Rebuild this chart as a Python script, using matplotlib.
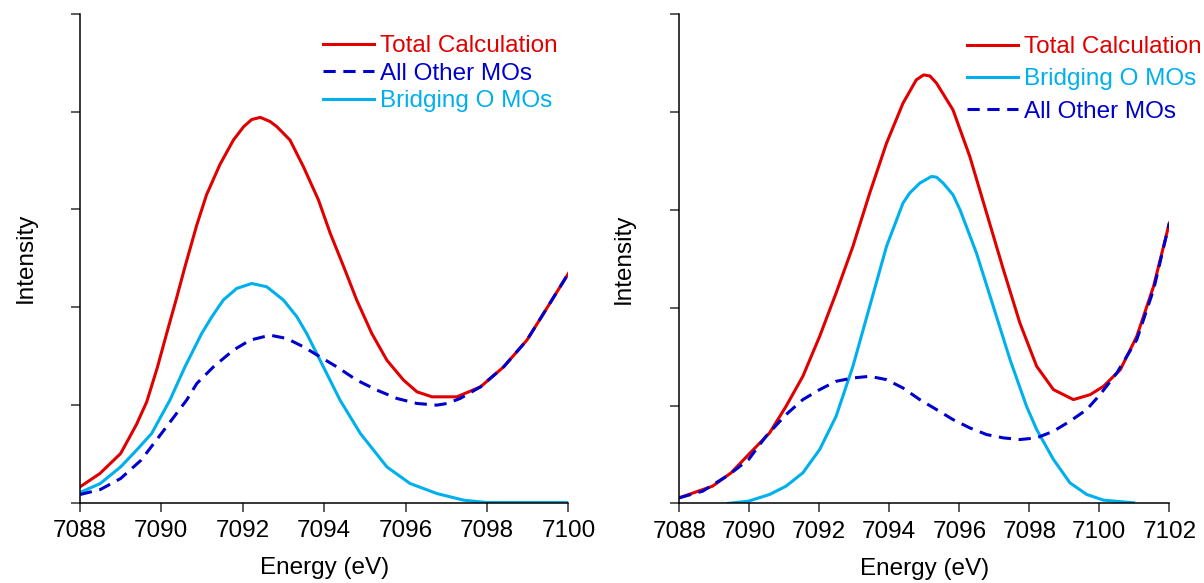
import matplotlib
matplotlib.use("Agg")
import matplotlib.pyplot as plt
import numpy as np

plt.rcParams["font.family"] = ["Liberation Sans", "DejaVu Sans"]

RED = "#E00000"
CYAN = "#00B0EC"
BLUE = "#0000CC"

# ── Left panel (7088-7100 eV) ───────────────────────────────────────
left_total_e = [7088.00, 7088.49, 7089.00, 7089.39, 7089.64, 7089.90, 7090.13, 7090.36,
                7090.58, 7090.87, 7091.11, 7091.44, 7091.77, 7092.02, 7092.22, 7092.43,
                7092.67, 7092.84, 7093.16, 7093.49, 7093.86, 7094.15, 7094.48, 7094.80,
                7095.17, 7095.54, 7095.95, 7096.28, 7096.65, 7097.26, 7097.84, 7098.41,
                7098.98, 7099.39, 7100.00]
left_total = [0.160, 0.297, 0.502, 0.800, 1.030, 1.380, 1.730, 2.072,
              2.413, 2.840, 3.150, 3.460, 3.710, 3.846, 3.920, 3.942,
              3.900, 3.846, 3.710, 3.437, 3.096, 2.754, 2.413, 2.072,
              1.730, 1.457, 1.253, 1.133, 1.082, 1.082, 1.184, 1.389,
              1.662, 1.935, 2.345]

left_bridging_e = [7088.00, 7088.50, 7089.00, 7089.39, 7089.76, 7090.21, 7090.58, 7090.99,
                   7091.24, 7091.52, 7091.85, 7092.22, 7092.59, 7093.00, 7093.33, 7093.57,
                   7093.98, 7094.39, 7094.89, 7095.54, 7096.11, 7096.77, 7097.43, 7098.00, 7100.00]
left_bridging = [0.102, 0.195, 0.365, 0.536, 0.706, 1.048, 1.389, 1.730,
                 1.901, 2.072, 2.191, 2.242, 2.208, 2.072, 1.901, 1.730,
                 1.389, 1.048, 0.706, 0.365, 0.195, 0.092, 0.024, 0.0, 0.0]

left_other_e = [7088.00, 7088.50, 7089.00, 7089.50, 7090.00, 7090.62, 7090.87, 7091.28,
                7091.77, 7092.18, 7092.67, 7093.08, 7093.49, 7093.90, 7094.31, 7094.80,
                7095.30, 7095.79, 7096.28, 7096.77, 7097.02, 7097.34, 7097.84, 7098.41,
                7098.98, 7099.39, 7100.00]
left_other = [0.082, 0.133, 0.246, 0.433, 0.706, 1.048, 1.218, 1.389,
              1.560, 1.662, 1.713, 1.679, 1.594, 1.491, 1.389, 1.253,
              1.150, 1.065, 1.014, 0.997, 1.014, 1.065, 1.184, 1.389,
              1.662, 1.935, 2.345]

# ── Right panel (7088-7102 eV) ──────────────────────────────────────
right_total_e = [7088.00, 7088.95, 7089.48, 7089.98, 7090.58, 7091.05, 7091.53, 7092.01,
                 7092.48, 7092.96, 7093.44, 7093.92, 7094.39, 7094.58, 7094.77, 7094.98,
                 7095.16, 7095.35, 7095.82, 7096.30, 7096.78, 7097.26, 7097.73, 7098.21,
                 7098.69, 7099.26, 7099.74, 7100.12, 7100.60, 7101.07, 7101.55, 7102.00]
right_total = [0.058, 0.177, 0.313, 0.500, 0.721, 0.993, 1.299, 1.707,
               2.150, 2.626, 3.170, 3.680, 4.088, 4.207, 4.327, 4.378,
               4.367, 4.293, 4.020, 3.544, 2.966, 2.388, 1.844, 1.401,
               1.163, 1.061, 1.112, 1.197, 1.367, 1.707, 2.218, 2.864]

right_bridging_e = [7089.38, 7089.98, 7090.58, 7091.05, 7091.53, 7092.01, 7092.48, 7092.96,
                    7093.44, 7093.92, 7094.39, 7094.58, 7094.87, 7095.20, 7095.35, 7095.54,
                    7095.82, 7096.02, 7096.49, 7096.97, 7097.45, 7097.92, 7098.21, 7098.69,
                    7099.16, 7099.64, 7100.12, 7100.98]
right_bridging = [0.0, 0.024, 0.092, 0.177, 0.313, 0.551, 0.891, 1.401,
                  2.014, 2.626, 3.068, 3.170, 3.272, 3.340, 3.333, 3.272,
                  3.153, 3.000, 2.558, 2.014, 1.469, 0.993, 0.755, 0.449,
                  0.211, 0.092, 0.034, 0.007]

right_other_e = [7088.00, 7088.67, 7089.43, 7089.98, 7090.48, 7091.05, 7091.53, 7092.01,
                 7092.48, 7092.96, 7093.44, 7093.92, 7094.39, 7094.87, 7095.35, 7095.82,
                 7096.30, 7096.78, 7097.26, 7097.73, 7098.21, 7098.69, 7099.16, 7099.64,
                 7100.02, 7100.50, 7101.07, 7101.55, 7102.00]
right_other = [0.058, 0.126, 0.296, 0.449, 0.687, 0.908, 1.061, 1.163,
               1.248, 1.282, 1.299, 1.265, 1.180, 1.061, 0.959, 0.857,
               0.772, 0.704, 0.670, 0.653, 0.670, 0.738, 0.840, 0.959,
               1.112, 1.333, 1.673, 2.184, 2.864]

FS = 17.5
fig = plt.figure(figsize=(12.04, 5.83), dpi=100)
axL = fig.add_axes([0.0664, 0.138, 0.4057, 0.838])
axR = fig.add_axes([0.5642, 0.1364, 0.407, 0.8396])

dash = (4, 2.5)
lw = 2.2

hL_t, = axL.plot(left_total_e, left_total, color=RED, lw=lw, label="Total Calculation")
hL_b, = axL.plot(left_bridging_e, left_bridging, color=CYAN, lw=lw, label="Bridging O MOs")
hL_o, = axL.plot(left_other_e, left_other, color=BLUE, lw=lw, dashes=dash, label="All Other MOs")

hR_t, = axR.plot(right_total_e, right_total, color=RED, lw=lw, label="Total Calculation")
hR_b, = axR.plot(right_bridging_e, right_bridging, color=CYAN, lw=lw, label="Bridging O MOs")
hR_o, = axR.plot(right_other_e, right_other, color=BLUE, lw=lw, dashes=dash, label="All Other MOs")

for ax, xmax in [(axL, 7100), (axR, 7102)]:
    ax.set_xlim(7088, xmax)
    ax.set_ylim(0, 5)
    ax.set_xticks(np.arange(7088, xmax + 1, 2))
    ax.set_yticks(np.arange(0, 6, 1))
    ax.set_yticklabels([])
    for s in ["top", "right"]:
        ax.spines[s].set_visible(False)
    for s in ["left", "bottom"]:
        ax.spines[s].set_linewidth(1.1)
    ax.tick_params(direction="out", length=6.5, width=1.1, labelsize=FS, pad=6, color="#303030")
    ax.set_xlabel("Energy (eV)", fontsize=FS)
    ax.set_ylabel("Intensity", fontsize=FS)
    ax.xaxis.set_label_coords(0.5, -0.111)

axL.yaxis.set_label_coords(-0.088, 0.5)
axR.yaxis.set_label_coords(-0.090, 0.5)

axL.legend(handles=[hL_t, hL_o, hL_b], loc="upper left", bbox_to_anchor=(0.497, 0.957),
           frameon=False, fontsize=FS, handlelength=2.1, handletextpad=0.25,
           labelspacing=0.23, borderpad=0, borderaxespad=0, labelcolor="linecolor")
axR.legend(handles=[hR_t, hR_b, hR_o], loc="upper left", bbox_to_anchor=(0.587, 0.955),
           frameon=False, fontsize=FS, handlelength=2.1, handletextpad=0.25,
           labelspacing=0.43, borderpad=0, borderaxespad=0, labelcolor="linecolor")

fig.savefig("out.png", dpi=100)
